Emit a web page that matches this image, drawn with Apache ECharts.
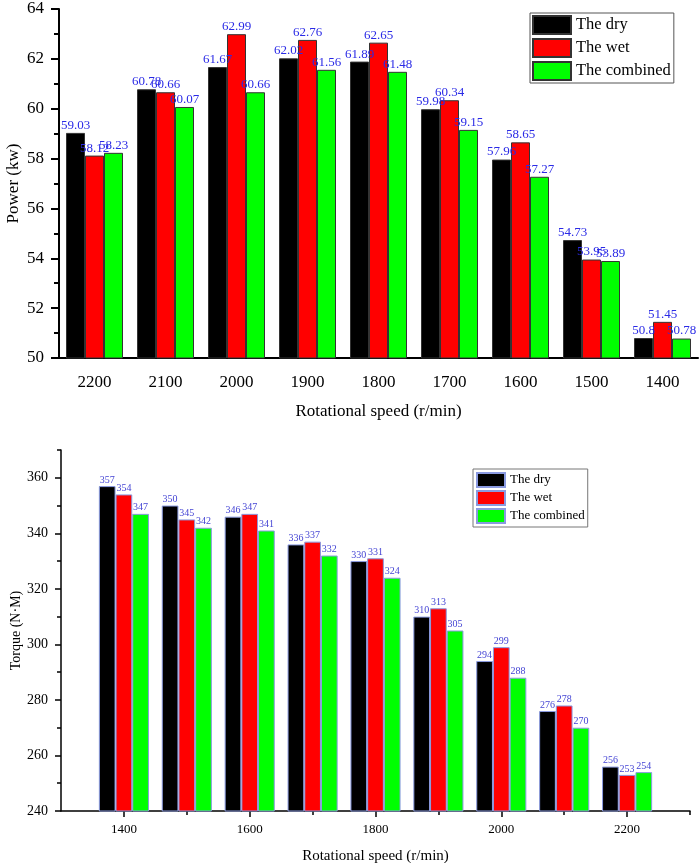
<!DOCTYPE html>
<html>
<head>
<meta charset="utf-8">
<script src="https://cdn.jsdelivr.net/npm/echarts@6/dist/echarts.min.js"></script>
<style>
  html, body { margin: 0; padding: 0; background: #fff; }
  #power { position: absolute; left: 0; top: 0; width: 700px; height: 432px; }
  #torque { position: absolute; left: 0; top: 432px; width: 700px; height: 431px; }
</style>
</head>
<body>
<div id="power"></div>
<div id="torque"></div>
<script>
// top chart: power vs speed (speed decreasing left to right)
const powerSpeeds = ['2200', '2100', '2000', '1900', '1800', '1700', '1600', '1500', '1400'];
const powerDry = [59.03, 60.78, 61.67, 62.02, 61.89, 59.98, 57.96, 54.73, 50.8];
const powerWet = [58.12, 60.66, 62.99, 62.76, 62.65, 60.34, 58.65, 53.95, 51.45];
const powerCombined = [58.23, 60.07, 60.66, 61.56, 61.48, 59.15, 57.27, 53.89, 50.78];

// bottom chart: torque vs speed
const torqueSpeeds = [1400, 1500, 1600, 1700, 1800, 1900, 2000, 2100, 2200];
const torqueDry = [357, 350, 346, 336, 330, 310, 294, 276, 256];
const torqueWet = [354, 345, 347, 337, 331, 313, 299, 278, 253];
const torqueCombined = [347, 342, 341, 332, 324, 305, 288, 270, 254];

const torqueLabelTicks = [1400, 1600, 1800, 2000, 2200];
const torqueMinorTicks = [1500, 1700, 1900, 2100, 2300];
const torqueYLabels = [240, 260, 280, 300, 320, 340, 360];
const torqueYMinor = [250, 270, 290, 310, 330, 350, 370];

const names = ['The dry', 'The wet', 'The combined'];
const colors = ['#000000', '#ff0000', '#00ff00'];
const serif = '"Liberation Serif", "Times New Roman", serif';

function powerChart() {
  const chart = echarts.init(document.getElementById('power'), null, { renderer: 'canvas' });
  const sets = [powerDry, powerWet, powerCombined];
  const option = {
    animation: false,
    textStyle: { fontFamily: serif },
    legend: {
      orient: 'vertical',
      left: 530,
      top: 13,
      itemWidth: 38,
      itemHeight: 18,
      itemGap: 3,
      padding: [2, 3, 2, 2],
      borderColor: '#555',
      borderWidth: 1,
      icon: 'rect',
      textStyle: { fontFamily: serif, fontSize: 16.5, color: '#000' },
      data: names
    },
    grid: { left: 59, top: 9, width: 639, height: 349, outerBoundsMode: 'none' },
    xAxis: [{
      type: 'category',
      data: powerSpeeds,
      name: 'Rotational speed (r/min)',
      nameLocation: 'middle',
      nameGap: 45,
      nameMoveOverlap: false,
      nameTextStyle: { fontFamily: serif, fontSize: 17, color: '#000' },
      axisLine: { lineStyle: { color: '#000', width: 2 } },
      axisTick: { alignWithLabel: true, length: 7, lineStyle: { color: '#000', width: 2 } },
      axisLabel: { fontFamily: serif, fontSize: 17, color: '#000', margin: 16 }
    }, {
      type: 'category',
      data: powerSpeeds,
      position: 'bottom',
      axisLine: { show: false },
      axisTick: { length: 4, lineStyle: { color: '#000', width: 2 } },
      axisLabel: { show: false }
    }],
    yAxis: {
      type: 'value',
      min: 50,
      max: 64,
      interval: 2,
      name: 'Power (kw)',
      nameLocation: 'middle',
      nameGap: 37,
      nameMoveOverlap: false,
      nameTextStyle: { fontFamily: serif, fontSize: 17, color: '#000' },
      axisLine: { show: true, lineStyle: { color: '#000', width: 2 } },
      axisTick: { show: true, length: 8, lineStyle: { color: '#000', width: 2 } },
      minorTick: { show: true, splitNumber: 2, length: 5, lineStyle: { color: '#000', width: 2 } },
      axisLabel: { fontFamily: serif, fontSize: 17, color: '#000', margin: 15 },
      splitLine: { show: false }
    },
    series: sets.map((d, i) => ({
      name: names[i],
      type: 'bar',
      xAxisIndex: 0,
      data: d,
      barWidth: 19,
      barGap: '0%',
      itemStyle: { color: colors[i], borderColor: '#333', borderWidth: 1 },
      label: {
        show: true,
        position: 'top',
        distance: 1,
        fontFamily: serif,
        fontSize: 13,
        color: '#2a2ae6'
      }
    }))
  };
  chart.setOption(option);
  return chart;
}

function torqueChart() {
  const chart = echarts.init(document.getElementById('torque'), null, { renderer: 'canvas' });
  const sets = [torqueDry, torqueWet, torqueCombined];
  const option = {
    animation: false,
    textStyle: { fontFamily: serif },
    legend: {
      orient: 'vertical',
      left: 473,
      top: 37,
      itemWidth: 28,
      itemHeight: 14,
      itemGap: 2,
      padding: [3, 3, 3, 3],
      borderColor: '#777',
      borderWidth: 1,
      icon: 'rect',
      textStyle: { fontFamily: serif, fontSize: 13, color: '#000' },
      data: names
    },
    grid: { left: 61, top: 18, width: 629, height: 361, outerBoundsMode: 'none' },
    xAxis: [{
      type: 'value',
      min: 1300,
      max: 2300,
      name: 'Rotational speed (r/min)',
      nameLocation: 'middle',
      nameGap: 38,
      nameMoveOverlap: false,
      nameTextStyle: { fontFamily: serif, fontSize: 15, color: '#000' },
      axisLine: { lineStyle: { color: '#000', width: 1.5 } },
      axisTick: { customValues: torqueLabelTicks, length: 6, lineStyle: { color: '#000', width: 1.5 } },
      axisLabel: {
        customValues: torqueLabelTicks,
        formatter: (v) => String(v),
        fontFamily: serif, fontSize: 13, color: '#000', margin: 12
      },
      splitLine: { show: false }
    }, {
      type: 'value',
      min: 1300,
      max: 2300,
      position: 'bottom',
      axisLine: { show: false },
      axisTick: { customValues: torqueMinorTicks, length: 4, lineStyle: { color: '#000', width: 1.5 } },
      axisLabel: { show: false },
      splitLine: { show: false }
    }],
    yAxis: [{
      type: 'value',
      min: 240,
      max: 370,
      name: 'Torque (N·M)',
      nameLocation: 'middle',
      nameGap: 38,
      nameMoveOverlap: false,
      nameTextStyle: { fontFamily: serif, fontSize: 14, color: '#000' },
      axisLine: { show: true, lineStyle: { color: '#000', width: 1.5 } },
      axisTick: { show: true, customValues: torqueYLabels, length: 6, lineStyle: { color: '#000', width: 1.5 } },
      axisLabel: { customValues: torqueYLabels, fontFamily: serif, fontSize: 14, color: '#000', margin: 13 },
      splitLine: { show: false }
    }, {
      type: 'value',
      min: 240,
      max: 370,
      position: 'left',
      axisLine: { show: false },
      axisTick: { show: true, customValues: torqueYMinor, length: 4, lineStyle: { color: '#000', width: 1.5 } },
      axisLabel: { show: false },
      splitLine: { show: false }
    }],
    series: sets.map((d, i) => ({
      name: names[i],
      type: 'bar',
      xAxisIndex: 0,
      yAxisIndex: 0,
      data: torqueSpeeds.map((s, j) => [s, d[j]]),
      barWidth: 16.7,
      barGap: '0%',
      itemStyle: { color: colors[i], borderColor: '#8a9ae0', borderWidth: 1 },
      label: {
        show: true,
        position: 'top',
        distance: 1,
        fontFamily: serif,
        fontSize: 10,
        color: '#4444d4',
        formatter: (p) => p.value[1]
      }
    }))
  };
  chart.setOption(option);
  return chart;
}

powerChart();
torqueChart();
</script>
</body>
</html>
